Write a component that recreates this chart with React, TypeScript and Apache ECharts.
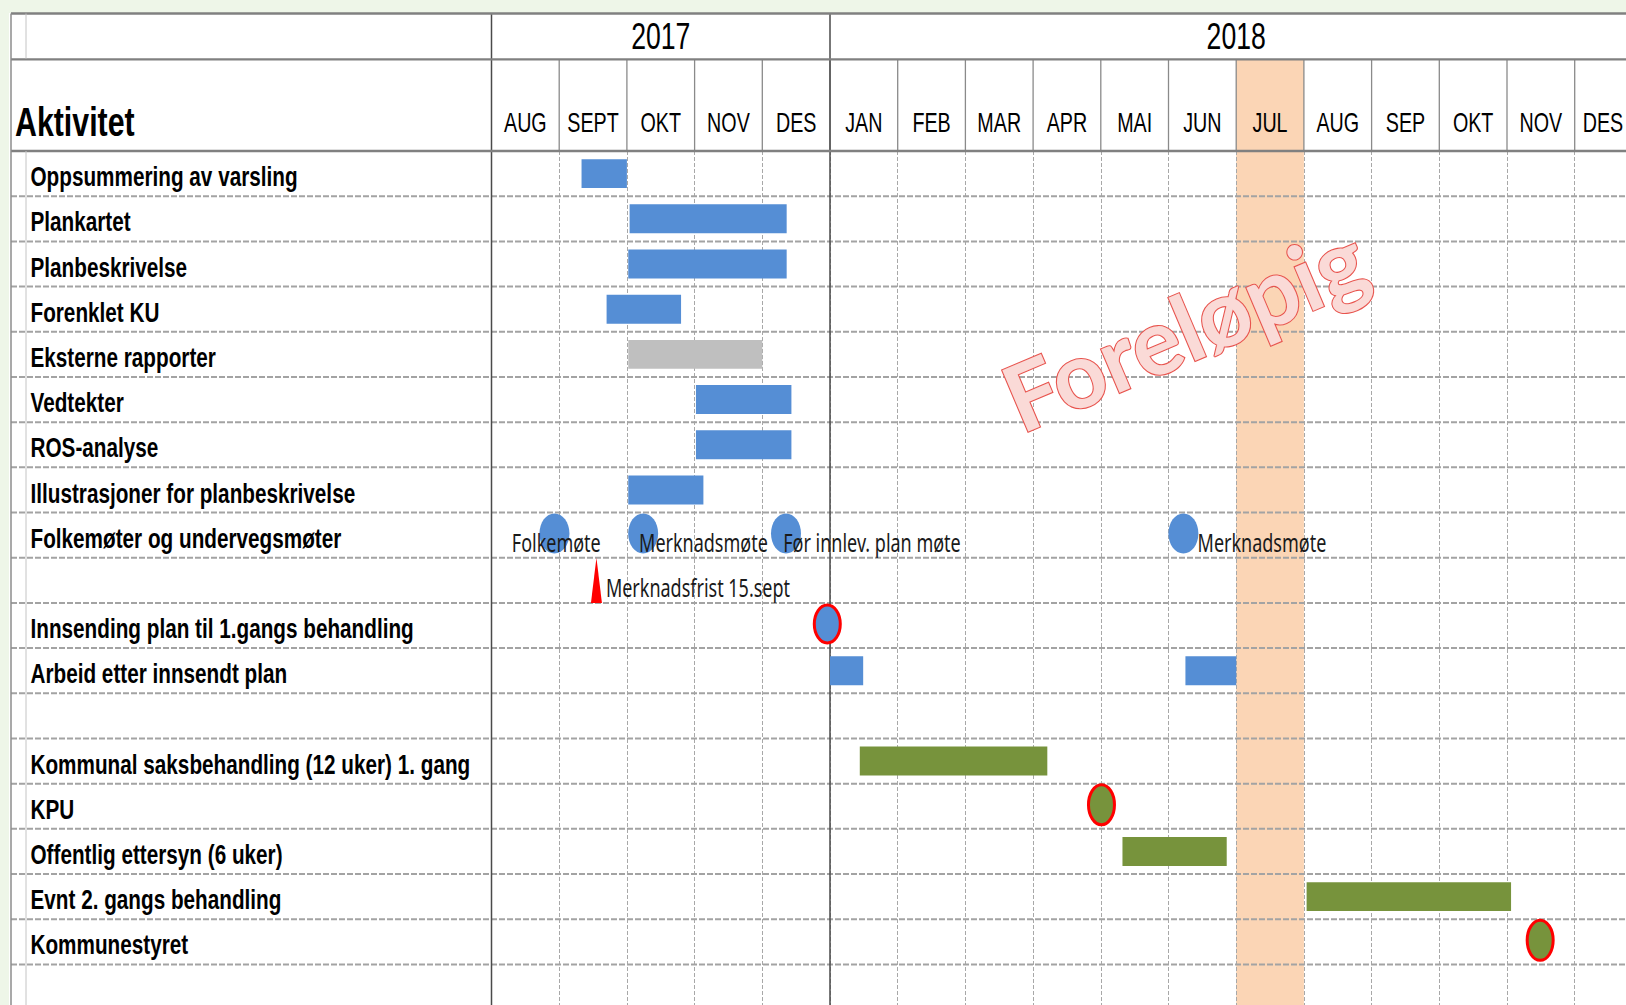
import React, { useEffect, useRef } from "react";
import * as echarts from "echarts";

// ---------- data ----------
const months = ["AUG", "SEPT", "OKT", "NOV", "DES", "JAN", "FEB", "MAR", "APR", "MAI", "JUN", "JUL", "AUG", "SEP", "OKT", "NOV", "DES"];
const yearLabels = ["2017", "2018"];
const yearStart = [0, 5];
const yearEnd = [5, 17];
const highlightMonth = 11; // JUL 2018

const activities = [
  "Oppsummering av varsling",
  "Plankartet",
  "Planbeskrivelse",
  "Forenklet KU",
  "Eksterne rapporter",
  "Vedtekter",
  "ROS-analyse",
  "Illustrasjoner for planbeskrivelse",
  "Folkemøter og undervegsmøter",
  "",
  "Innsending plan til 1.gangs behandling",
  "Arbeid etter innsendt plan",
  "",
  "Kommunal saksbehandling (12 uker) 1. gang",
  "KPU",
  "Offentlig ettersyn (6 uker)",
  "Evnt 2. gangs behandling",
  "Kommunestyret",
  "",
];

// bars: [start (month index), row, end (month index)]
const blueBars = [
  [1.33, 0, 2.0],
  [2.04, 1, 4.36],
  [2.02, 2, 4.36],
  [1.7, 3, 2.8],
  [3.02, 5, 4.43],
  [3.02, 6, 4.43],
  [2.02, 7, 3.13],
  [5.0, 11, 5.49],
  [10.25, 11, 11.0],
];
const grayBars = [[2.02, 4, 4.0]];
const greenBars = [
  [5.44, 13, 8.21],
  [9.32, 15, 10.86],
  [12.04, 16, 15.06],
];

// meetings: [month index, row]
const meetingPoints = [
  [0.93, 8],
  [2.24, 8],
  [4.35, 8],
  [10.22, 8],
];
const meetingLabels = ["Folkemøte", "Merknadsmøte", "Før innlev. plan møte", "Merknadsmøte"];
const meetingLabelPos = [
  [0.3, 8],
  [2.18, 8],
  [4.31, 8],
  [10.43, 8],
];
const deadlinePoints = [[1.55, 9]];
const deadlineLabels = ["Merknadsfrist 15.sept"];
const deadlineLabelPos = [[1.69, 9]];
const submitMilestones = [[4.96, 10]];
const decisionMilestones = [
  [9.01, 14],
  [15.49, 17],
];

// ---------- layout / style constants ----------
const MONTH_W = 67.7;
const ROW_H = 45.19;
const GRID_LEFT = 491.5;
const BODY_TOP = 151;
const HEAD_TOP = 13.5;
const HEAD_H = 137.5;
const FRAME_LEFT = 11;
const FRAME_INNER = 26;
const W = 1626;
const H = 1005;

const LABEL_FONT = "'Liberation Sans', Arial, Helvetica, sans-serif";
const NOTE_FONT = "'Noto Sans', 'Open Sans', sans-serif";
const BLUE = "#558ED5";
const GREEN = "#77933C";
const GRAY = "#BFBFBF";
const RED = "#FF0000";
const PEACH = "#FBD5B5";

export default function App() {
  const ref = useRef<HTMLDivElement>(null);

  useEffect(() => {
    if (!ref.current) return;
    const chart = echarts.init(ref.current, null, { renderer: "svg", width: W, height: H });
    const ROWS = activities.length;
    // visible extents of the axes (the sheet is cut at the right and bottom edges)
    const X_MAX = (W - GRID_LEFT) / MONTH_W;
    const Y_MAX = (H - BODY_TOP) / ROW_H;

    const base = (gridIdx: number, z = 2) => ({
      type: "custom",
      xAxisIndex: gridIdx,
      yAxisIndex: gridIdx,
      silent: true,
      clip: false,
      z,
    });

    const barRender = (color: string) => (params: any, api: any) => {
      const s = api.value(0);
      const r = api.value(1);
      const e = api.value(2);
      const p0 = api.coord([s, r + 0.5]);
      const p1 = api.coord([e, r + 0.5]);
      const h = api.size([0, 0.64])[1];
      return {
        type: "rect",
        shape: { x: p0[0], y: p0[1] - h / 2, width: p1[0] - p0[0], height: h },
        style: { fill: color },
      };
    };

    const ellipseRender = (fill: string, rx: number, ry: number, stroke?: string) => (params: any, api: any) => {
      const p = api.coord([api.value(0), api.value(1) + 0.5]);
      return {
        type: "ellipse",
        shape: { cx: p[0], cy: p[1] - 1.5, rx, ry },
        style: stroke ? { fill, stroke, lineWidth: 3 } : { fill },
      };
    };

    const noteRender = (labels: string[]) => (params: any, api: any) => {
      const p = api.coord([api.value(0), api.value(1) + 0.5]);
      return {
        type: "text",
        x: p[0],
        y: p[1] + 7,
        scaleX: 0.72,
        style: {
          text: labels[params.dataIndex],
          fill: "#1a1a1a",
          fontSize: 25,
          fontFamily: NOTE_FONT,
          textAlign: "left",
          textVerticalAlign: "middle",
          align: "left",
          verticalAlign: "middle",
        },
      };
    };

    const series: any[] = [
      // JUL highlight in body (under the grid lines)
      {
        ...base(0, -1),
        data: [[highlightMonth, 0]],
        renderItem: (params: any, api: any) => {
          const m = api.value(0);
          const p0 = api.coord([m, 0]);
          const p1 = api.coord([m + 1, Y_MAX]);
          return { type: "rect", shape: { x: p0[0], y: p0[1], width: p1[0] - p0[0], height: p1[1] - p0[1] }, style: { fill: PEACH } };
        },
      },
      // row lines (dashed), extending into the label column
      {
        ...base(0),
        data: Array.from({ length: ROWS }, (_, i) => [0, i + 1]),
        renderItem: (params: any, api: any) => {
          const y = api.coord([0, api.value(1)])[1];
          const xEnd = api.coord([X_MAX, 0])[0];
          return {
            type: "line",
            shape: { x1: FRAME_LEFT, y1: y, x2: xEnd, y2: y },
            style: { stroke: "#a3a3a3", lineWidth: 2, lineDash: [6, 2] },
          };
        },
      },
      // year dividers in body
      {
        ...base(0),
        data: yearStart.map((s) => [s, 0]),
        renderItem: (params: any, api: any) => {
          const p0 = api.coord([api.value(0), 0]);
          const p1 = api.coord([api.value(0), Y_MAX]);
          return { type: "line", shape: { x1: p0[0], y1: p0[1], x2: p1[0], y2: p1[1] }, style: { stroke: "#4a4a4a", lineWidth: 1.5 } };
        },
      },
      { ...base(0), data: blueBars, renderItem: barRender(BLUE) },
      { ...base(0), data: grayBars, renderItem: barRender(GRAY) },
      { ...base(0), data: greenBars, renderItem: barRender(GREEN) },
      { ...base(0), data: meetingPoints, renderItem: ellipseRender(BLUE, 15, 20) },
      { ...base(0), data: submitMilestones, renderItem: ellipseRender(BLUE, 13, 19, RED) },
      { ...base(0), data: decisionMilestones, renderItem: ellipseRender(GREEN, 13, 20, RED) },
      // deadline triangle
      {
        ...base(0),
        data: deadlinePoints,
        renderItem: (params: any, api: any) => {
          const top = api.coord([api.value(0), api.value(1)]);
          const bot = api.coord([api.value(0), api.value(1) + 1]);
          return {
            type: "polygon",
            shape: { points: [[top[0], top[1]], [bot[0] + 5.5, bot[1]], [bot[0] - 5.5, bot[1]]] },
            style: { fill: RED },
          };
        },
      },
      { ...base(0, 3), data: meetingLabelPos, renderItem: noteRender(meetingLabels) },
      { ...base(0, 3), data: deadlineLabelPos, renderItem: noteRender(deadlineLabels) },
      // activity labels in the left column
      {
        ...base(0, 3),
        data: activities.map((_, i) => [0, i]),
        renderItem: (params: any, api: any) => {
          const p = api.coord([0, api.value(1) + 0.5]);
          return {
            type: "text",
            x: p[0] - 461,
            y: p[1] + 3,
            scaleX: 0.74,
            style: {
              text: activities[params.dataIndex],
              fill: "#000",
              fontSize: 28,
              fontWeight: "bold",
              fontFamily: LABEL_FONT,
              textAlign: "left",
              textVerticalAlign: "middle",
              align: "left",
              verticalAlign: "middle",
            },
          };
        },
      },

      // ---------- header ----------
      {
        ...base(1, 1),
        data: [[highlightMonth, 1]],
        renderItem: (params: any, api: any) => {
          const m = api.value(0);
          const p0 = api.coord([m, 1]);
          const p1 = api.coord([m + 1, 3]);
          return { type: "rect", shape: { x: p0[0], y: p0[1], width: p1[0] - p0[0], height: p1[1] - p0[1] }, style: { fill: PEACH } };
        },
      },
      // month separators in header
      {
        ...base(1),
        data: Array.from({ length: months.length - 1 }, (_, i) => [i + 1, 1]),
        renderItem: (params: any, api: any) => {
          const p0 = api.coord([api.value(0), 1]);
          const p1 = api.coord([api.value(0), 3]);
          return { type: "line", shape: { x1: p0[0], y1: p0[1], x2: p1[0], y2: p1[1] }, style: { stroke: "#8a8a8a", lineWidth: 1.3 } };
        },
      },
      // year separators in header
      {
        ...base(1),
        data: yearStart.map((s) => [s, 0]),
        renderItem: (params: any, api: any) => {
          const p0 = api.coord([api.value(0), 0]);
          const p1 = api.coord([api.value(0), 3]);
          return { type: "line", shape: { x1: p0[0], y1: p0[1], x2: p1[0], y2: p1[1] }, style: { stroke: "#4a4a4a", lineWidth: 1.5 } };
        },
      },
      // header horizontal lines
      {
        ...base(1),
        data: [[0, 0], [0, 1], [0, 3]],
        renderItem: (params: any, api: any) => {
          const y = api.coord([0, api.value(1)])[1];
          const xEnd = api.coord([X_MAX, 0])[0];
          return { type: "line", shape: { x1: FRAME_LEFT, y1: y, x2: xEnd, y2: y }, style: { stroke: "#808080", lineWidth: 2.4 } };
        },
      },
      // month labels
      {
        ...base(1, 3),
        data: months.map((_, i) => [i + 0.5, 2.39]),
        renderItem: (params: any, api: any) => {
          const p = api.coord([api.value(0), api.value(1)]);
          // keep the partly visible last month label inside the sheet
          const xEdge = api.coord([X_MAX, 0])[0] - 23;
          return {
            type: "text",
            x: Math.min(p[0], xEdge),
            y: p[1],
            scaleX: 0.73,
            style: {
              text: months[params.dataIndex],
              fill: "#000",
              fontSize: 27,
              fontFamily: LABEL_FONT,
              textAlign: "center",
              textVerticalAlign: "middle",
              align: "center",
              verticalAlign: "middle",
            },
          };
        },
      },
      // year labels
      {
        ...base(1, 3),
        data: yearLabels.map((_, i) => [(yearStart[i] + yearEnd[i]) / 2, 0.5]),
        renderItem: (params: any, api: any) => {
          const p = api.coord([api.value(0), api.value(1)]);
          return {
            type: "text",
            x: p[0],
            y: p[1],
            scaleX: 0.72,
            style: {
              text: yearLabels[params.dataIndex],
              fill: "#000",
              fontSize: 37,
              fontFamily: LABEL_FONT,
              textAlign: "center",
              textVerticalAlign: "middle",
              align: "center",
              verticalAlign: "middle",
            },
          };
        },
      },
    ];

    const option: any = {
      animation: false,
      backgroundColor: "#ffffff",
      grid: [
        { left: GRID_LEFT, top: BODY_TOP, right: 0, bottom: 0 },
        { left: GRID_LEFT, top: HEAD_TOP, right: 0, height: HEAD_H },
      ],
      xAxis: [
        {
          type: "value",
          gridIndex: 0,
          min: 0,
          max: X_MAX,
          interval: 1,
          axisLine: { show: false },
          axisTick: { show: false },
          axisLabel: { show: false },
          splitLine: { show: true, lineStyle: { color: "#a8a8a8", width: 1, type: [4, 2] } },
        },
        { type: "value", gridIndex: 1, min: 0, max: X_MAX, show: false },
      ],
      yAxis: [
        { type: "value", gridIndex: 0, inverse: true, min: 0, max: Y_MAX, interval: 1, show: false },
        { type: "value", gridIndex: 1, inverse: true, min: 0, max: 3, show: false },
      ],
      graphic: [
        { type: "rect", z: -5, shape: { x: 0, y: 0, width: W, height: 13 }, style: { fill: "#EEF6E8" } },
        { type: "rect", z: -5, shape: { x: 0, y: 0, width: 9, height: H }, style: { fill: "#EEF6E8" } },
        { type: "line", z: 5, shape: { x1: FRAME_LEFT, y1: HEAD_TOP, x2: FRAME_LEFT, y2: H }, style: { stroke: "#8c8c8c", lineWidth: 1.5 } },
        { type: "line", z: 5, shape: { x1: FRAME_INNER, y1: HEAD_TOP, x2: FRAME_INNER, y2: 58.5 }, style: { stroke: "#c4c4c4", lineWidth: 1 } },
        { type: "line", z: 5, shape: { x1: FRAME_INNER, y1: BODY_TOP, x2: FRAME_INNER, y2: H }, style: { stroke: "#c4c4c4", lineWidth: 1 } },
        {
          type: "text",
          z: 6,
          x: 15,
          y: 122,
          scaleX: 0.74,
          style: {
            text: "Aktivitet",
            fill: "#000",
            fontSize: 41,
            fontWeight: "bold",
            fontFamily: LABEL_FONT,
            textAlign: "left",
            textVerticalAlign: "middle",
            align: "left",
            verticalAlign: "middle",
          },
        },
        {
          type: "text",
          z: 100,
          x: 1184,
          y: 327,
          rotation: (23 * Math.PI) / 180,
          style: {
            text: "Foreløpig",
            fill: "#FADAD7",
            stroke: "#E8544E",
            lineWidth: 2.2,
            fontSize: 92,
            fontWeight: "bold",
            fontFamily: "Lato, 'DejaVu Sans', sans-serif",
            textAlign: "center",
            textVerticalAlign: "middle",
            align: "center",
            verticalAlign: "middle",
          },
        },
      ],
      series,
    };

    chart.setOption(option);
    return () => chart.dispose();
  }, []);

  return <div ref={ref} style={{ position: "fixed", left: 0, top: 0, width: W, height: H, background: "#fff" }} />;
}
